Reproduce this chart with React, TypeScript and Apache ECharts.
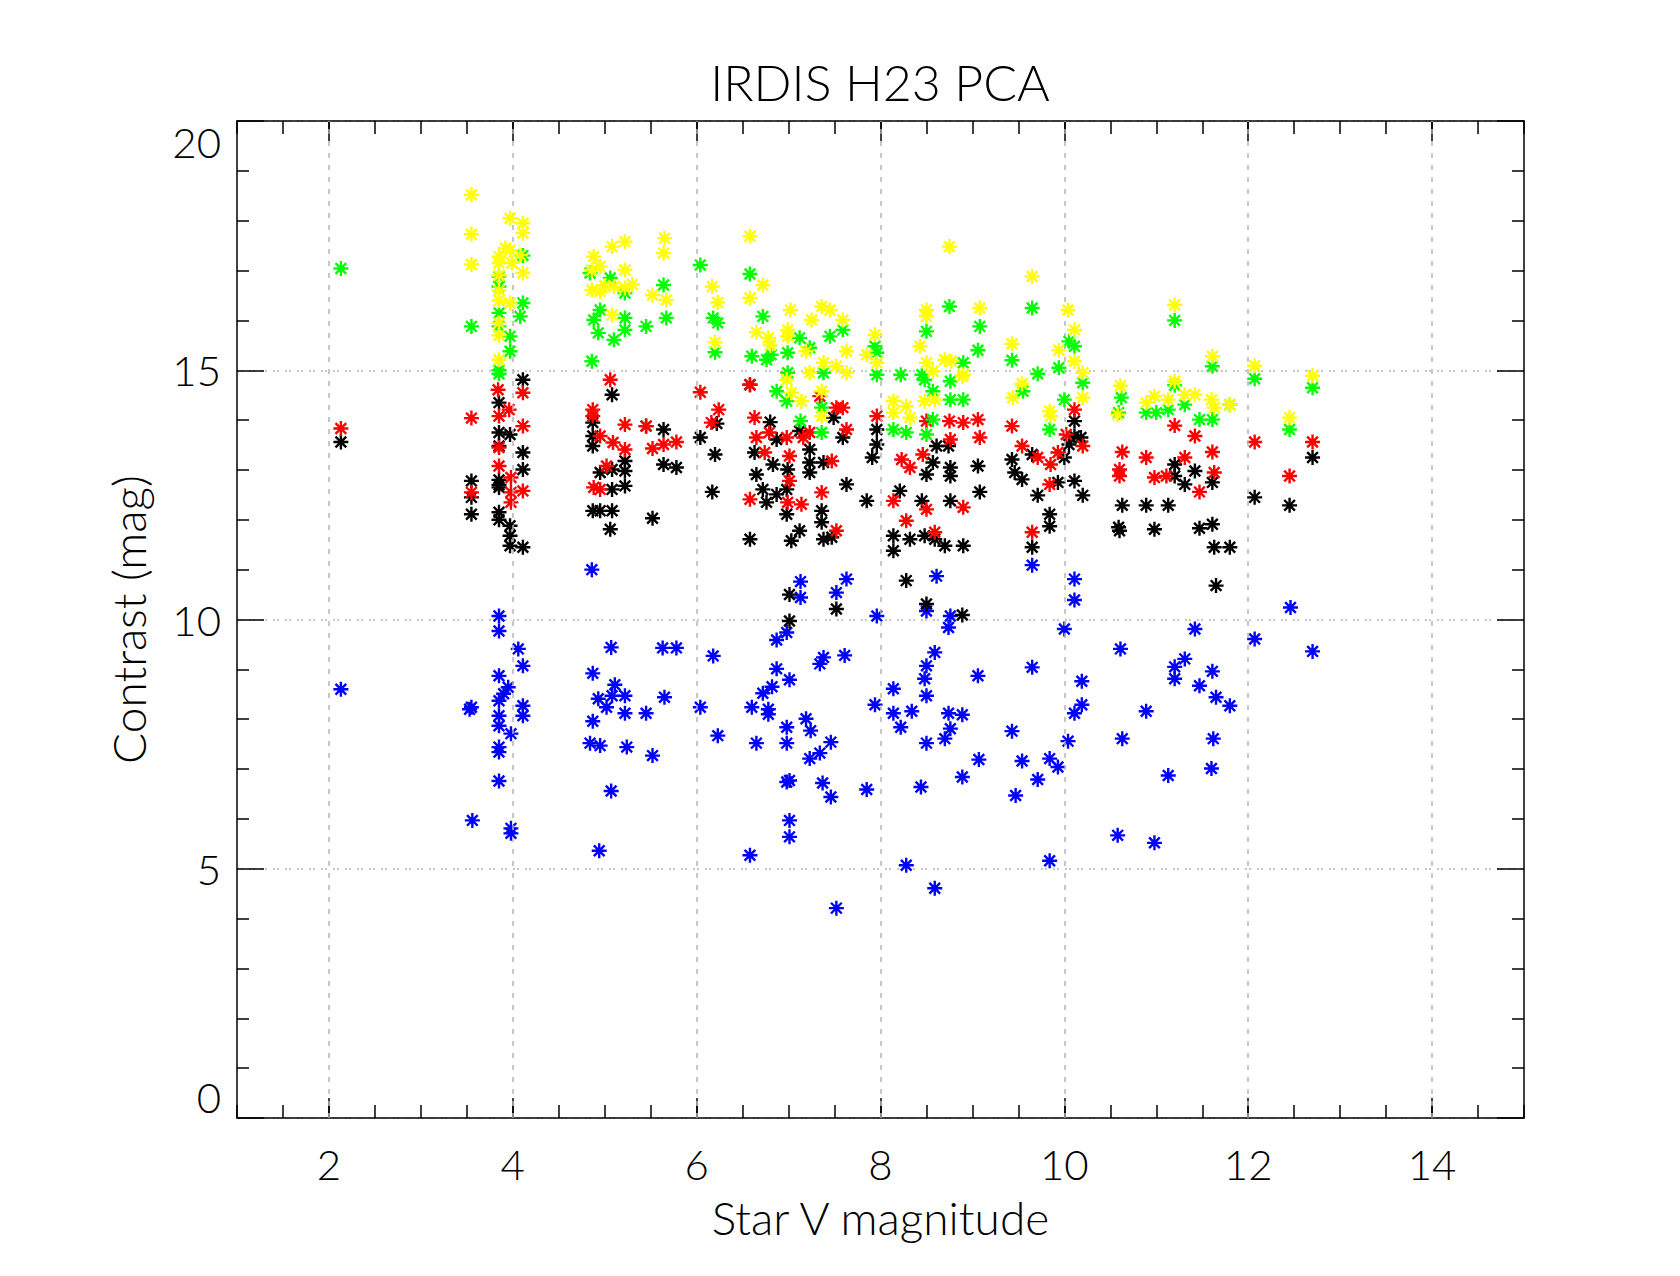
import React, { useEffect, useRef } from "react";
import * as echarts from "echarts";

const TITLE = "IRDIS H23 PCA";
const X_NAME = "Star V magnitude";
const Y_NAME = "Contrast (mag)";
const X_MIN = 1;
const X_MAX = 15;
const Y_MIN = 0;
const Y_MAX = 20;
const X_MAJOR = [2, 4, 6, 8, 10, 12, 14];

const yellowPts: number[][] = [
  [3.55, 18.52], [3.55, 17.73], [3.55, 17.12],
  [3.85, 17.28], [3.85, 17.15], [3.85, 16.9], [3.85, 16.6], [3.85, 16.4], [3.85, 15.95], [3.85, 15.7], [3.85, 15.21],
  [3.92, 17.45], [3.97, 18.05], [3.97, 17.41], [3.99, 17.15], [3.97, 16.35], [4.08, 17.31],
  [4.11, 17.95], [4.11, 17.75], [4.11, 16.95],
  [4.88, 17.28], [4.86, 17.01], [4.86, 16.61], [4.95, 17.08], [4.95, 16.58],
  [5.08, 17.48], [5.1, 16.68], [5.08, 16.11], [5.22, 17.58], [5.22, 17.01], [5.22, 16.65], [5.0, 16.7], [5.3, 16.72],
  [5.65, 17.65], [5.64, 17.35], [5.52, 16.51], [5.67, 16.41],
  [6.17, 16.68], [6.23, 16.36], [6.2, 15.56],
  [6.58, 17.69], [6.72, 16.71], [6.58, 16.45], [6.65, 15.76], [6.78, 15.65], [6.8, 15.5], [6.99, 15.81], [7.02, 16.21],
  [6.99, 15.68], [6.98, 14.81], [7.03, 14.55], [7.14, 14.38], [7.19, 15.38], [7.25, 16.01], [7.36, 16.28], [7.45, 16.21],
  [7.59, 16.01], [7.63, 15.38], [7.52, 15.08], [7.38, 15.15], [7.23, 14.95], [7.63, 14.95], [7.36, 14.58], [7.36, 14.08],
  [7.94, 15.71], [7.85, 15.31], [7.96, 15.15], [8.5, 16.21], [8.5, 16.08], [8.43, 15.48], [8.75, 17.48],
  [8.5, 15.15], [8.7, 15.21], [8.77, 15.18], [8.9, 14.91], [8.57, 14.98], [8.14, 14.38], [8.28, 14.28], [8.48, 14.38],
  [8.59, 14.41], [8.14, 14.15], [8.32, 14.05],
  [9.08, 16.25], [8.89, 14.88], [9.43, 15.53], [9.54, 14.73], [9.44, 14.45], [9.65, 16.88], [9.94, 15.4], [9.84, 14.18],
  [9.85, 14.08], [10.04, 16.21], [10.11, 15.81], [10.11, 15.18], [10.2, 14.95], [10.2, 14.45],
  [10.61, 14.69], [10.58, 14.11], [10.89, 14.35], [10.98, 14.48], [11.2, 16.31], [11.2, 14.78], [11.13, 14.41],
  [11.31, 14.51], [11.42, 14.51], [11.61, 15.28], [11.6, 14.41], [11.63, 14.25], [11.8, 14.31], [12.07, 15.09],
  [12.45, 14.05], [12.7, 14.89],
];

const greenPts: number[][] = [
  [2.13, 17.04], [3.55, 15.88], [3.85, 16.88], [3.85, 16.68], [3.85, 16.15], [3.85, 15.88], [3.85, 15.0], [3.85, 14.93],
  [3.97, 15.68], [3.97, 15.38], [4.11, 17.3], [4.11, 16.35], [4.08, 16.08],
  [4.84, 16.95], [4.88, 16.01], [4.86, 15.18], [4.95, 16.21], [4.93, 15.75], [5.06, 16.85], [5.1, 15.61],
  [5.22, 16.55], [5.22, 16.05], [5.22, 15.81],
  [5.64, 16.71], [5.67, 16.05], [5.45, 15.88], [6.04, 17.11], [6.18, 16.05], [6.23, 15.95], [6.2, 15.36],
  [6.58, 16.93], [6.72, 16.08], [6.6, 15.28], [6.76, 15.21], [6.81, 15.31], [6.99, 15.35], [7.12, 15.65], [7.23, 15.45],
  [6.99, 14.95], [6.87, 14.58], [6.98, 14.38], [7.13, 13.98], [7.45, 15.68], [7.59, 15.81], [7.38, 14.95], [7.36, 14.25],
  [7.36, 13.75],
  [7.94, 15.48], [7.96, 15.35], [7.96, 14.91], [8.22, 14.91], [8.45, 14.91], [8.48, 14.81], [8.76, 14.78], [8.57, 14.58],
  [8.75, 16.28], [8.5, 15.78], [8.9, 15.15], [8.76, 14.41], [8.9, 14.41], [8.14, 13.81], [8.28, 13.75], [8.5, 13.71],
  [8.57, 14.01],
  [9.08, 15.88], [9.06, 15.4], [9.43, 15.2], [9.55, 14.58], [9.65, 16.25], [9.71, 14.93], [9.94, 15.05], [9.84, 13.81],
  [10.05, 15.58], [10.11, 15.48], [10.2, 14.75], [10.0, 14.41],
  [10.62, 14.45], [10.59, 14.15], [10.89, 14.15], [11.0, 14.15], [11.2, 16.0], [11.2, 14.7], [11.13, 14.21],
  [11.31, 14.31], [11.47, 14.01], [11.61, 15.08], [11.61, 14.01], [11.8, 14.31], [12.07, 14.83], [12.45, 13.81],
  [12.7, 14.65],
];

const redPts: number[][] = [
  [2.13, 13.83], [3.55, 14.04], [3.55, 12.55], [3.84, 14.61], [3.85, 14.08], [3.85, 13.45], [3.85, 13.08],
  [3.96, 14.21], [3.98, 12.85], [3.98, 12.55], [3.98, 12.35], [4.11, 14.55], [4.11, 13.88], [4.11, 12.58],
  [4.87, 14.21], [4.87, 14.08], [4.95, 13.68], [4.88, 12.65], [4.95, 12.61], [5.06, 14.81], [5.09, 13.55],
  [5.22, 13.91], [5.22, 13.41], [5.02, 13.08],
  [5.45, 13.88], [5.78, 13.56], [5.64, 13.51], [5.52, 13.43], [6.04, 14.56], [6.24, 14.21], [6.16, 13.95],
  [6.58, 14.71], [6.63, 14.05], [6.65, 13.65], [6.79, 13.75], [6.98, 13.65], [7.16, 13.65], [7.23, 13.75], [6.74, 13.35],
  [7.01, 13.28], [7.47, 13.18], [7.01, 12.78], [6.58, 12.41], [6.99, 12.35], [7.14, 12.31], [7.36, 12.55], [7.52, 11.78],
  [7.52, 14.25], [7.59, 14.25], [7.63, 13.81], [7.96, 14.08], [7.34, 14.48],
  [8.5, 13.98], [8.75, 13.98], [8.9, 13.95], [8.76, 13.61], [8.46, 13.31], [8.23, 13.21], [8.32, 13.05], [8.14, 12.38],
  [8.5, 12.21], [8.9, 12.25], [8.28, 11.98], [8.59, 11.75],
  [9.06, 14.01], [9.08, 13.65], [9.43, 13.88], [9.54, 13.48], [9.71, 13.25], [9.65, 11.75], [9.85, 13.11],
  [9.93, 13.35], [9.84, 12.71], [10.11, 14.21], [10.02, 13.71], [10.2, 13.48],
  [10.63, 13.36], [10.6, 13.01], [10.6, 12.88], [10.89, 13.25], [10.98, 12.85], [11.2, 13.89], [11.11, 12.88],
  [11.42, 13.68], [11.31, 13.25], [11.47, 12.56], [11.61, 13.36], [11.63, 12.95], [12.07, 13.56], [12.45, 12.88],
  [12.7, 13.56],
];

const blackPts: number[][] = [
  [2.13, 13.56], [3.55, 12.78], [3.55, 12.45], [3.55, 12.11], [3.85, 14.35], [3.85, 13.75], [3.85, 13.48], [3.85, 12.8],
  [3.85, 12.7], [3.85, 12.65], [3.85, 12.15], [3.85, 12.0], [3.97, 13.71], [3.97, 11.88], [3.97, 11.68], [3.97, 11.48],
  [4.11, 14.81], [4.11, 13.35], [4.11, 13.01], [4.11, 11.45],
  [4.87, 13.95], [4.87, 13.68], [4.87, 13.48], [4.87, 12.18], [4.95, 12.95], [4.95, 12.18], [5.08, 14.51], [5.08, 13.01],
  [5.08, 12.61], [5.08, 12.18], [5.06, 11.81], [5.22, 13.18], [5.22, 12.98], [5.22, 12.68],
  [5.45, 13.88], [5.64, 13.81], [5.64, 13.11], [5.78, 13.05], [5.52, 12.03], [6.04, 13.65], [6.22, 13.93], [6.2, 13.31],
  [6.17, 12.56],
  [6.58, 14.71], [6.8, 13.96], [6.87, 13.61], [7.12, 13.78], [6.63, 13.35], [6.83, 13.11], [6.99, 13.01], [7.23, 13.41],
  [7.23, 13.15], [7.38, 13.15], [7.23, 12.95], [6.65, 12.91], [6.72, 12.61], [6.87, 12.51], [6.98, 12.61], [6.76, 12.35],
  [6.98, 12.11], [7.36, 12.18], [7.36, 11.95], [7.63, 12.71], [7.85, 12.38], [6.58, 11.61], [7.03, 11.58], [7.12, 11.78],
  [7.38, 11.61], [7.47, 11.65], [7.49, 14.05], [7.59, 13.65], [7.96, 13.81], [7.96, 13.51], [7.91, 13.25],
  [7.01, 10.5], [7.01, 9.97], [7.52, 10.21], [8.28, 10.78], [8.5, 10.31], [8.89, 10.09],
  [8.61, 13.48], [8.74, 13.48], [8.57, 13.15], [8.76, 13.05], [8.76, 12.88], [8.5, 12.91], [8.21, 12.58], [8.45, 12.38],
  [8.76, 12.38], [8.14, 11.68], [8.32, 11.61], [8.48, 11.68], [8.59, 11.61], [8.7, 11.48], [8.9, 11.48], [8.14, 11.38],
  [9.06, 13.08], [9.08, 12.56], [9.43, 13.21], [9.46, 12.95], [9.54, 12.81], [9.65, 13.31], [9.71, 12.49], [9.65, 11.45],
  [9.93, 12.75], [9.84, 12.11], [9.84, 11.87], [10.11, 13.98], [10.11, 13.68], [10.18, 13.65], [10.05, 13.51],
  [10.0, 13.25], [10.11, 12.78], [10.2, 12.49],
  [10.63, 12.29], [10.59, 11.85], [10.6, 11.78], [10.89, 12.29], [10.98, 11.81], [11.2, 13.11], [11.2, 12.88],
  [11.13, 12.29], [11.31, 12.71], [11.42, 12.98], [11.47, 11.83], [11.61, 12.75], [11.61, 11.91], [11.63, 11.45],
  [11.8, 11.45], [11.65, 10.68], [12.07, 12.45], [12.45, 12.29], [12.7, 13.25],
];

const bluePts: number[][] = [
  [2.13, 8.6], [3.55, 8.24], [3.53, 8.2], [3.56, 5.97], [3.85, 10.07], [3.85, 9.77], [4.06, 9.41], [4.11, 9.07],
  [3.85, 8.87], [3.95, 8.64], [3.9, 8.51], [3.85, 8.37], [4.11, 8.27], [4.11, 8.07], [3.85, 8.07], [3.85, 7.87],
  [3.98, 7.71], [3.85, 7.44], [3.85, 7.34], [3.85, 6.76], [3.98, 5.81], [3.98, 5.71],
  [4.86, 11.0], [5.07, 9.44], [4.87, 8.92], [5.11, 8.69], [4.93, 8.41], [5.08, 8.47], [5.22, 8.47], [5.02, 8.24],
  [5.22, 8.12], [4.87, 7.96], [4.84, 7.52], [4.95, 7.47], [5.24, 7.44], [5.07, 6.56], [4.94, 5.36],
  [5.45, 8.12], [5.65, 8.44], [5.52, 7.27], [5.63, 9.43], [5.78, 9.43], [6.04, 8.24], [6.18, 9.27], [6.23, 7.67],
  [6.6, 8.24], [6.65, 7.52], [6.72, 8.52], [6.78, 8.2], [6.78, 8.1], [6.82, 8.65], [6.87, 9.01], [6.87, 9.59],
  [6.98, 9.74], [7.01, 8.79], [6.98, 7.84], [6.98, 7.52], [7.19, 8.01], [7.24, 7.77], [7.46, 7.54], [7.34, 7.32],
  [7.23, 7.21], [7.01, 6.77], [6.98, 6.74], [7.37, 6.72], [7.46, 6.44], [7.85, 6.59], [7.01, 5.97], [7.01, 5.64],
  [6.58, 5.27], [7.52, 4.21],
  [7.13, 10.76], [7.13, 10.44], [7.63, 10.81], [7.52, 10.54], [7.96, 10.07], [7.38, 9.24], [7.34, 9.11], [7.61, 9.28],
  [7.94, 8.29],
  [8.61, 10.87], [8.5, 10.17], [8.76, 10.07], [8.74, 9.84], [8.59, 9.34], [8.5, 9.07], [8.48, 8.81], [8.5, 8.47],
  [8.14, 8.61], [8.14, 8.12], [8.34, 8.16], [8.22, 7.84], [8.5, 7.52], [8.7, 7.61], [8.76, 7.81], [8.74, 8.12],
  [8.89, 8.09], [8.44, 6.64], [8.89, 6.84], [8.28, 5.07], [8.59, 4.61],
  [9.65, 11.09], [10.11, 10.81], [10.11, 10.39], [10.0, 9.81], [11.42, 9.81], [12.07, 9.61], [12.46, 10.24],
  [12.7, 9.36], [10.61, 9.41], [11.31, 9.21], [11.2, 9.05], [11.2, 8.81], [11.61, 8.96], [11.47, 8.67], [11.65, 8.44],
  [11.8, 8.27], [10.89, 8.16], [11.62, 7.61], [10.63, 7.61], [11.6, 7.01], [11.13, 6.87], [10.58, 5.67], [10.98, 5.52],
  [9.06, 8.87], [9.65, 9.04], [10.19, 8.76], [10.19, 8.29], [10.11, 8.12], [9.43, 7.76], [10.04, 7.56], [9.07, 7.19],
  [9.54, 7.16], [9.84, 7.21], [9.93, 7.04], [9.71, 6.79], [9.47, 6.47], [9.84, 5.16],
];

const FONT = "Lato, 'Liberation Sans', 'DejaVu Sans', sans-serif";
const FONT_WEIGHT = 300;
const STAR = "path://M7,0L7,14M0,7L14,7M2,2L12,12M2,12L12,2";
const GRID_GRAY = "#b4b4b4";

const starSeries = (name: string, data: number[][], color: string, z: number) => ({
  name,
  type: "scatter",
  xAxisIndex: 0,
  yAxisIndex: 0,
  data,
  symbol: STAR,
  symbolSize: 15,
  silent: true,
  z,
  itemStyle: { color, borderColor: color, borderWidth: 2.4, opacity: 1 },
});

export default function App() {
  const ref = useRef<HTMLDivElement>(null);
  useEffect(() => {
    if (!ref.current) return;
    const chart = echarts.init(ref.current, null, { renderer: "svg" });
    const axisLineStyle = { color: "#000", width: 1.5 };
    const textBase = { fontFamily: FONT, fontWeight: FONT_WEIGHT, color: "#000" };
    const baseX = {
      type: "value",
      min: X_MIN,
      max: X_MAX,
      splitLine: { show: false },
    };
    const option: any = {
      animation: false,
      backgroundColor: "#ffffff",
      grid: { left: 237, top: 121, width: 1287, height: 997, containLabel: false },
      graphic: [
        {
          type: "text",
          x: 880,
          y: 57,
          style: {
            text: TITLE,
            fontSize: 50,
            fontFamily: FONT,
            fontWeight: FONT_WEIGHT,
            fill: "#000",
            align: "center",
            verticalAlign: "top",
            textAlign: "center",
            textVerticalAlign: "top",
          },
        },
      ],
      xAxis: [
        {
          ...baseX,
          interval: 0.5,
          position: "bottom",
          axisLine: { show: true, onZero: false, lineStyle: axisLineStyle },
          axisTick: { show: true, inside: true, length: 13, lineStyle: axisLineStyle },
          axisLabel: { show: false },
        },
        {
          ...baseX,
          position: "bottom",
          axisLine: { show: false, onZero: false },
          axisTick: { show: true, inside: true, length: 20, customValues: X_MAJOR, lineStyle: axisLineStyle },
          axisLabel: {
            show: true,
            customValues: X_MAJOR,
            fontSize: 42,
            ...textBase,
            margin: 25,
          },
          name: X_NAME,
          nameLocation: "middle",
          nameGap: 76,
          nameTextStyle: { fontSize: 46, ...textBase },
        },
        {
          ...baseX,
          interval: 0.5,
          position: "top",
          axisLine: { show: true, onZero: false, lineStyle: axisLineStyle },
          axisTick: { show: true, inside: true, length: 13, lineStyle: axisLineStyle },
          axisLabel: { show: false },
        },
        {
          ...baseX,
          position: "top",
          axisLine: { show: false, onZero: false },
          axisTick: { show: true, inside: true, length: 20, customValues: X_MAJOR, lineStyle: axisLineStyle },
          axisLabel: { show: false },
        },
      ],
      yAxis: [
        {
          type: "value",
          min: Y_MIN,
          max: Y_MAX,
          interval: 5,
          position: "left",
          axisLine: { show: true, onZero: false, lineStyle: axisLineStyle },
          axisTick: { show: true, inside: true, length: 27, lineStyle: axisLineStyle },
          minorTick: { show: true, splitNumber: 5, length: 12, lineStyle: axisLineStyle },
          axisLabel: {
            fontSize: 42,
            ...textBase,
            margin: 16,
            verticalAlignMinLabel: "bottom",
            verticalAlignMaxLabel: "top",
          },
          splitLine: { show: true, lineStyle: { color: GRID_GRAY, width: 1.5, type: [2, 2, 2, 6] } },
          name: Y_NAME,
          nameLocation: "middle",
          nameGap: 86,
          nameRotate: 90,
          nameTextStyle: { fontSize: 46, ...textBase },
        },
        {
          type: "value",
          min: Y_MIN,
          max: Y_MAX,
          interval: 5,
          position: "right",
          axisLine: { show: true, onZero: false, lineStyle: axisLineStyle },
          axisTick: { show: true, inside: true, length: 27, lineStyle: axisLineStyle },
          minorTick: { show: true, splitNumber: 5, length: 12, lineStyle: axisLineStyle },
          axisLabel: { show: false },
          splitLine: { show: false },
        },
      ],
      series: [
        {
          name: "grid",
          type: "line",
          xAxisIndex: 0,
          yAxisIndex: 0,
          data: [],
          z: 1,
          silent: true,
          markLine: {
            silent: true,
            symbol: ["none", "none"],
            label: { show: false },
            lineStyle: { color: GRID_GRAY, width: 1.5, type: [5, 7] },
            data: X_MAJOR.map((v) => ({ xAxis: v })),
          },
        },
        starSeries("blue", bluePts, "#0000ff", 2),
        starSeries("black", blackPts, "#000000", 3),
        starSeries("red", redPts, "#ff0000", 4),
        starSeries("green", greenPts, "#00ff00", 5),
        starSeries("yellow", yellowPts, "#ffff00", 6),
      ],
    };
    chart.setOption(option);
    return () => chart.dispose();
  }, []);
  return (
    <div
      ref={ref}
      style={{ position: "absolute", left: 0, top: 0, width: 1680, height: 1276, background: "#fff" }}
    />
  );
}
